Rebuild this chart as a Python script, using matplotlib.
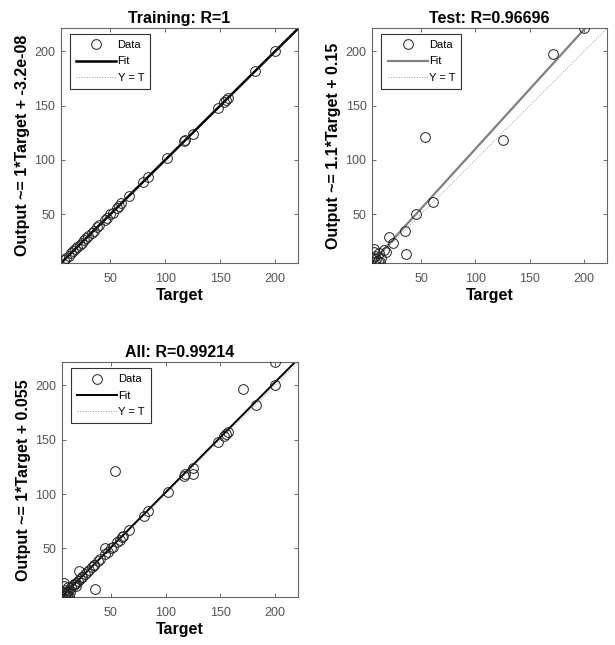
import matplotlib
matplotlib.use("Agg")
import matplotlib.pyplot as plt
import numpy as np

plt.rcParams["font.family"] = ["Liberation Sans", "DejaVu Sans"]

# Training set: target / output
train_t = [8, 10, 12, 14, 16, 18, 20, 22, 24, 26, 28, 30, 33, 35, 38, 40,
           45, 47, 50, 52, 56, 58, 60, 67, 80, 84, 102, 117, 118, 125,
           148, 153, 155, 157, 182, 200]
train_y = [8, 10, 12, 14, 16, 18, 20, 22, 24, 26, 28, 30, 33, 35, 38, 40,
           45, 47, 50, 51, 56, 58, 60, 67, 80, 84, 102, 117, 118, 124,
           148, 153, 155, 157, 182, 200]

# Test set
test_t = [200, 171, 125, 54, 61, 45, 35, 36, 21, 24, 7, 7, 8, 9, 10, 12,
          8, 13, 11, 16, 18, 6]
test_y = [221, 197, 118, 121, 61, 50, 35, 13, 29, 24, 18, 15, 12, 9, 7, 6,
          6, 10, 14, 17, 15, 10]

all_t = train_t + test_t
all_y = train_y + test_y

titles = ["Training: R=1", "Test: R=0.96696", "All: R=0.99214"]
ylabels = ["Output ~= 1*Target + -3.2e-08",
           "Output ~= 1.1*Target + 0.15",
           "Output ~= 1*Target + 0.055"]
slopes = [1.0, 1.1, 1.015]
intercepts = [-3.2e-08, 0.15, 0.055]
fit_colors = ["black", "#808080", "black"]
fit_widths = [1.8, 1.6, 1.4]

lims = (5, 221)
ticks = [50, 100, 150, 200]

fig = plt.figure(figsize=(6.15, 6.45), dpi=100)
rects = [
    [0.099, 0.592, 0.386, 0.364],
    [0.605, 0.592, 0.382, 0.364],
    [0.100, 0.074, 0.385, 0.364],
]
datasets = [(train_t, train_y), (test_t, test_y), (all_t, all_y)]

for i, (t, y) in enumerate(datasets):
    ax = fig.add_axes(rects[i])
    xs = np.array(lims, dtype=float)
    ax.plot(t, y, "o", mfc="none", mec="#222222", ms=7, mew=0.7,
            label="Data", zorder=3)
    ax.plot(xs, slopes[i] * xs + intercepts[i], color=fit_colors[i],
            lw=fit_widths[i], label="Fit", zorder=2)
    ax.plot(xs, xs, ":", color="#999999", lw=0.7, label="Y = T", zorder=1)
    ax.set_xlim(lims)
    ax.set_ylim(lims)
    ax.set_xticks(ticks)
    ax.set_yticks(ticks)
    ax.tick_params(direction="in", top=True, right=True, length=3,
                   width=0.6, colors="#555555", labelsize=9, pad=4)
    ax.tick_params(axis="x", pad=7)
    for sp in ax.spines.values():
        sp.set_color("#666666")
        sp.set_linewidth(0.8)
    ax.set_title(titles[i], fontsize=11.5, fontweight="bold", pad=4)
    ax.set_xlabel("Target", fontsize=11.5, fontweight="bold", labelpad=2)
    ax.set_ylabel(ylabels[i], fontsize=11.5, fontweight="bold", labelpad=3)
    leg = ax.legend(loc="upper left", fontsize=8, fancybox=False,
                    framealpha=1, edgecolor="#333333", borderpad=0.55,
                    handlelength=3.6, handletextpad=0.1, labelspacing=0.55,
                    borderaxespad=0, bbox_to_anchor=(0.04, 0.975))
    leg.get_frame().set_linewidth(0.8)

fig.savefig("out.png", dpi=100)
